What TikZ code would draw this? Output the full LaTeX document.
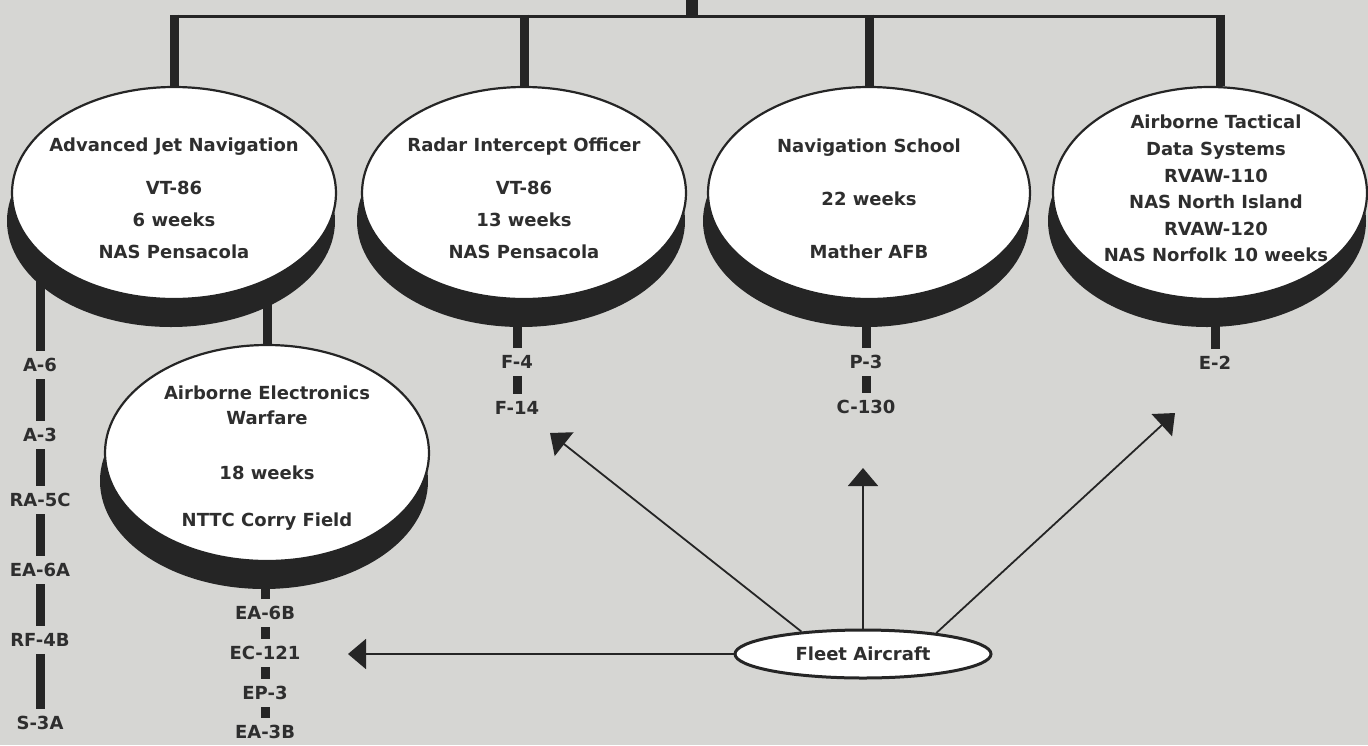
\documentclass[tikz,border=0pt]{standalone}
\usepackage{fontspec}
\setmainfont{DejaVu Sans}
\usetikzlibrary{shapes.geometric,arrows.meta,calc}
\pgfdeclarelayer{bgfill}
\pgfdeclarelayer{links}
\pgfsetlayers{bgfill,links,main}
\definecolor{paper}{HTML}{D6D6D3}
\definecolor{ink}{HTML}{252525}
\definecolor{txt}{HTML}{2E2E2E}
\tikzset{
 face/.style={ellipse, draw=ink, line width=2.2pt, fill=white, inner sep=0pt},
 rim/.style={ellipse, fill=ink, draw=none, inner sep=0pt},
 inside/.style={font=\fontsize{18}{32}\selectfont\bfseries, text=txt, align=center, inner sep=0pt, anchor=north},
 plane/.style={font=\fontsize{18}{22}\selectfont\bfseries, text=txt, inner xsep=2pt, inner ysep=7pt},
 bar/.style={draw=ink, line width=9pt},
 hbar/.style={draw=ink, line width=3pt},
 stub/.style={draw=ink, line width=12pt},
 tick/.style={draw=ink, line width=9pt},
 arrowline/.style={draw=ink, line width=1.8pt, -{Triangle[length=18pt,width=30pt]}},
 fleetbox/.style={ellipse, draw=ink, line width=3pt, fill=white, minimum width=256pt, minimum height=48pt, inner sep=0pt, font=\fontsize{18}{22}\selectfont\bfseries, text=txt}
}
\newcommand\mkdisc[5]{%
  \node[rim, minimum width=#4pt+4pt, minimum height=#5pt] (#1rim) at (#2-3,#3+28) {};
  \node[face, minimum width=#4pt, minimum height=#5pt] (#1) at (#2,#3) {};
}
\begin{document}
\begin{tikzpicture}[x=1pt,y=-1pt]
\begin{pgfonlayer}{bgfill}
\fill[paper] (0,0) rectangle (1368,745);
\end{pgfonlayer}
\path[use as bounding box] (0,0) rectangle (1368,745);

% discs
\mkdisc{adv}{174}{193}{324}{212}
\mkdisc{rio}{524}{193}{324}{212}
\mkdisc{nav}{869}{193}{322}{212}
\mkdisc{atd}{1210}{193}{314}{212}
\mkdisc{aew}{267}{453}{324}{216}

% disc texts
\node[inside] (advt) at (174,138) {Advanced Jet Navigation\\[10.5pt]VT-86\\6 weeks\\NAS Pensacola};
\node[inside] (riot) at (524,138) {Radar Intercept Officer\\[10.5pt]VT-86\\13 weeks\\NAS Pensacola};
\node[inside, font=\fontsize{18}{53}\selectfont\bfseries] (navt) at (869,139) {Navigation School\\22 weeks\\Mather AFB};
\node[inside, font=\fontsize{18}{26.6}\selectfont\bfseries] (atdt) at (1216,115) {Airborne Tactical\\Data Systems\\RVAW-110\\NAS North Island\\RVAW-120\\NAS Norfolk 10 weeks};
\node[inside, font=\fontsize{18}{25}\selectfont\bfseries] (aewt) at (267,386) {Airborne Electronics\\Warfare\\[30pt]18 weeks\\[22pt]NTTC Corry Field};

% aircraft labels
\node[plane] (a6) at (40,365) {A-6};
\node[plane] (a3) at (40,435) {A-3};
\node[plane] (ra5c) at (40,500) {RA-5C};
\node[plane] (ea6a) at (40,570) {EA-6A};
\node[plane] (rf4b) at (40,640) {RF-4B};
\node[plane] (s3a) at (40,723) {S-3A};
\node[plane] (ea6b) at (265,613) {EA-6B};
\node[plane] (ec121) at (265,653) {EC-121};
\node[plane] (ep3) at (265,693) {EP-3};
\node[plane] (ea3b) at (265,732) {EA-3B};
\node[plane] (f4) at (517,362) {F-4};
\node[plane] (f14) at (517,408) {F-14};
\node[plane] (p3) at (866,362) {P-3};
\node[plane] (c130) at (866,407) {C-130};
\node[plane] (e2) at (1215,363) {E-2};

\node[fleetbox] (fleet) at (863,654) {Fleet Aircraft};

% top tree
\coordinate (top) at (692,0);
\coordinate (hub) at (692,16);
\coordinate (j1) at (174,14.5);
\coordinate (j2) at (524,14.5);
\coordinate (j3) at (869,14.5);
\coordinate (j4) at (1220,14.5);
\draw[stub] (top) -- (hub);
\draw[hbar] ([yshift=-1.5pt]j1) -- ([yshift=-1.5pt]j4);
\draw[bar] (j1) -- (adv.north);
\draw[bar] (j2) -- (rio.north);
\draw[bar] (j3) -- (nav.north);
\draw[bar] (j4) -- (j4 |- atd.north);

% links behind discs
\begin{pgfonlayer}{links}
\draw[bar] (a6) -- (a6 |- advrim.center);
\draw[bar] (aew.north) -- (aew.north |- advrim.center);
\draw[bar] (f4) -- (f4 |- riorim.center);
\draw[bar] (p3) -- (p3 |- navrim.center);
\draw[bar] (e2) -- (e2 |- atdrim.center);
\draw[bar] (ea6b) -- (ea6b |- aewrim.center);
\end{pgfonlayer}

\draw[bar] (a6) -- (a3);
\draw[bar] (a3) -- (ra5c);
\draw[bar] (ra5c) -- (ea6a);
\draw[bar] (ea6a) -- (rf4b);
\draw[bar] (rf4b) -- (s3a);
\draw[tick] (f4) -- (f14);
\draw[tick] (p3) -- (c130);
\draw[tick] (ea6b) -- (ec121);
\draw[tick] (ec121) -- (ep3);
\draw[tick] (ep3) -- (ea3b);

% arrows from Fleet Aircraft
\coordinate (tipL) at (348,654);
\coordinate (tipF) at (550,433);
\coordinate (tipM) at (866,468);
\coordinate (tipR) at (1175,413);
\draw[arrowline] (fleet.west) -- (tipL);
\draw[arrowline] (fleet.160) -- (tipF);
\draw[arrowline] (fleet.north) -- (fleet.north |- tipM);
\draw[arrowline] (fleet.16) -- (tipR);
\end{tikzpicture}
\end{document}
